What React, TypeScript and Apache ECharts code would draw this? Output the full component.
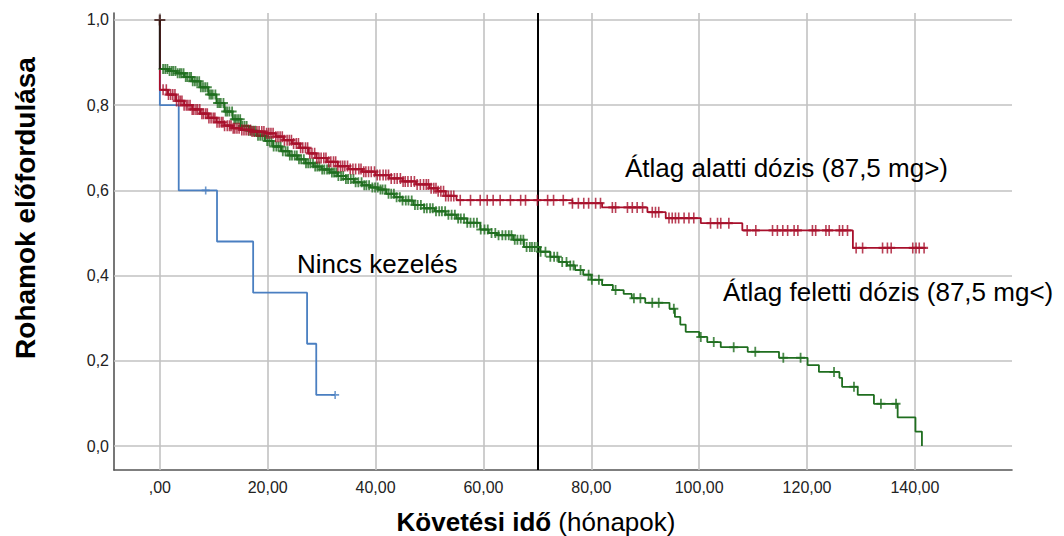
import { useEffect, useRef } from "react";
import * as echarts from "echarts";

// ---- axis ticks ----
const xTicks = [0, 20, 40, 60, 80, 100, 120, 140];
const yTicks = [0, 0.2, 0.4, 0.6, 0.8, 1.0];
const referenceLineX = 70;

// ---- Nincs kezelés (blue) ----
const blueTimes = [0, 3.5, 10.6, 17.3, 27.3, 29];
const blueValues = [0.8, 0.6, 0.48, 0.36, 0.24, 0.12];
const blueEnd = 32.5;
const blueCensor = [8.5, 32.5];

// ---- Átlag alatti dózis (red) ----
const redTimes = [
  0, 1.5, 3, 4.5, 6, 7.5, 9, 10.5, 12, 13.5, 15, 17, 19.5, 21.5, 23, 24.5, 26, 27.5, 29, 31, 33, 35,
  37.5, 40, 42.5, 45, 47.5, 50, 51.5, 53, 55, 76.5, 82, 90.4, 93.8, 100.3, 108, 128.5,
];
const redValues = [
  0.836, 0.825, 0.81, 0.8, 0.79, 0.78, 0.77, 0.76, 0.752, 0.746, 0.742, 0.738, 0.734, 0.726, 0.718,
  0.71, 0.7, 0.687, 0.676, 0.667, 0.657, 0.65, 0.644, 0.636, 0.628, 0.621, 0.614, 0.605, 0.598, 0.587,
  0.577, 0.57, 0.56, 0.549, 0.535, 0.523, 0.506, 0.465,
];
const redEnd = 142;
const redCensor = [
  0.6, 1.2, 1.6, 2.0, 2.4, 2.8, 3.1, 3.5, 3.8, 4.1, 4.5, 4.9, 5.2, 5.6, 6.0, 6.3, 6.7, 7.0, 7.4, 7.8,
  8.1, 8.5, 8.8, 9.1, 9.5, 9.9, 10.2, 10.6, 11.0, 11.4, 11.7, 12.0, 12.5, 12.9, 13.2, 13.6, 13.9, 14.3,
  14.7, 15.2, 15.6, 16.0, 16.4, 16.8, 17.1, 17.5, 18.0, 18.4, 18.9, 19.3, 19.8, 20.2, 20.6, 21.0, 21.5,
  21.9, 22.3, 22.7, 23.1, 23.6, 24.0, 24.4, 24.8, 25.3, 25.7, 26.1, 26.5, 27.0, 27.4, 27.8, 28.2, 28.7,
  29.1, 29.5, 29.9, 30.4, 30.8, 31.3, 31.7, 32.2, 32.6, 33.0, 33.5, 33.9, 34.3, 34.8, 35.3, 35.8, 36.3,
  36.9, 37.3, 37.8, 38.2, 38.7, 39.2, 39.8, 40.3, 40.8, 41.4, 41.9, 42.4, 42.9, 43.5, 44.0, 44.6, 45.1,
  45.5, 46.0, 46.6, 47.2, 47.7, 48.3, 48.9, 49.4, 49.8, 50.3, 50.8, 51.2, 51.6, 52.1, 52.6, 53.0, 53.5,
  54.0, 54.5, 55.7, 57.6, 59.4, 60.7, 61.8, 63.1, 65.0, 66.9, 67.8, 70.0, 71.9, 73.0, 74.8, 76.5, 77.6,
  78.6, 79.5, 80.8, 81.7, 83.9, 84.5, 86.7, 87.6, 88.5, 89.5, 91.3, 91.9, 92.5, 94.4, 95.0, 95.6, 96.2,
  97.2, 98.1, 99.0, 102.1, 103.4, 104.0, 105.5, 108.9, 110.5, 113.6, 114.5, 115.5, 116.4, 117.6, 118.3,
  121.0, 121.6, 123.5, 124.1, 126.0, 126.6, 127.5, 129.1, 130.3, 134.0, 134.9, 135.6, 139.6, 140.2,
  140.8, 141.7,
];

// ---- Átlag feletti dózis (green) ----
const greenTimes = [
  0, 1.5, 3, 4.5, 6, 7.5, 9, 10.5, 12, 13.5, 15, 16.5, 18, 19.5, 21, 22.5, 24, 25.5, 27, 28.5, 30,
  31.5, 33, 34.5, 36, 37.5, 39, 40.5, 42, 43.5, 45, 47, 49, 51, 53, 55, 57, 59.4, 61, 62.5, 65.5, 67.5,
  70.5, 72.4, 74, 75.5, 77, 78.5, 80, 82, 84, 86, 87.5, 90, 94.5, 95.5, 96.5, 97.5, 100, 101.5, 104,
  109, 114.8, 120.1, 122.2, 126, 126.5, 129.4, 132.4, 136.8, 140.1, 141.3,
];
const greenValues = [
  0.885, 0.88, 0.875, 0.866, 0.856, 0.842, 0.825, 0.805, 0.785, 0.767, 0.751, 0.74, 0.728, 0.716,
  0.703, 0.692, 0.682, 0.673, 0.664, 0.656, 0.649, 0.642, 0.634, 0.627, 0.619, 0.612, 0.607, 0.602,
  0.592, 0.584, 0.576, 0.566, 0.558, 0.551, 0.543, 0.534, 0.524, 0.508, 0.5, 0.495, 0.484, 0.467,
  0.456, 0.444, 0.432, 0.424, 0.413, 0.402, 0.39, 0.378, 0.366, 0.357, 0.347, 0.336, 0.322, 0.303,
  0.285, 0.268, 0.256, 0.244, 0.232, 0.221, 0.207, 0.19, 0.174, 0.16, 0.139, 0.12, 0.099, 0.067,
  0.034, 0.0,
];
const greenEnd = 141.3;
const greenCensor = [
  0.6, 1.0, 1.4, 1.8, 2.2, 2.5, 2.9, 3.3, 3.7, 4.0, 4.4, 4.8, 5.1, 5.5, 5.8, 6.1, 6.5, 6.9, 7.3, 7.6,
  8.0, 8.4, 8.8, 9.2, 9.5, 9.8, 10.3, 10.7, 11.0, 11.3, 11.8, 12.2, 12.5, 12.9, 13.4, 13.8, 14.1, 14.5,
  14.9, 15.3, 15.7, 16.1, 16.5, 16.9, 17.3, 17.7, 18.2, 18.6, 19.0, 19.4, 19.9, 20.3, 20.7, 21.1, 21.6,
  22.0, 22.4, 22.8, 23.3, 23.7, 24.1, 24.5, 25.0, 25.4, 25.8, 26.2, 26.7, 27.1, 27.5, 27.9, 28.4, 28.8,
  29.2, 29.6, 30.1, 30.5, 31.0, 31.4, 31.9, 32.3, 32.7, 33.1, 33.6, 34.0, 34.5, 34.9, 35.4, 35.9, 36.3,
  36.8, 37.4, 37.9, 38.3, 38.8, 39.4, 39.9, 40.4, 40.9, 41.3, 41.8, 42.4, 42.9, 43.4, 43.9, 44.5, 45.0,
  45.6, 46.1, 46.7, 47.3, 47.8, 48.4, 49.0, 49.5, 50.1, 50.6, 51.2, 51.8, 52.3, 52.9, 53.5, 54.1, 54.7,
  55.3, 55.8, 56.4, 57.0, 57.6, 58.2, 58.8, 59.5, 60.2, 60.8, 61.5, 62.2, 62.8, 63.5, 64.1, 64.7, 65.2,
  65.8, 66.3, 66.9, 67.4, 68.0, 68.6, 69.0, 69.5, 70.0, 70.6, 71.5, 72.4, 73.1, 73.7, 74.6, 75.4, 76.1,
  76.7, 78.0, 79.5, 80.1, 81.4, 84.5, 87.9, 89.1, 91.3, 92.5, 95.3, 100.3, 102.7, 106.4, 110.4, 115.6,
  118.8, 125.0, 128.7, 133.7, 136.5,
];

const BLUE = "#4a7fc1";
const RED = "#a8102c";
const GREEN = "#1f6e1f";
const GRID = "#c2c2c2";
const AXIS = "#555555";
const FONT = "'Liberation Sans', Arial, sans-serif";
const NARROW = "'Liberation Sans Narrow', 'Arial Narrow', 'Liberation Sans', Arial, sans-serif";
const PLUS = "path://M4,0H6V4H10V6H6V10H4V6H0V4H4Z";

function stepPoints(times: number[], values: number[], end: number) {
  const pts: number[][] = [[0, 1]];
  let prev = 1;
  for (let i = 0; i < times.length; i++) {
    pts.push([times[i], prev]);
    pts.push([times[i], values[i]]);
    prev = values[i];
  }
  if (end > times[times.length - 1]) pts.push([end, prev]);
  return pts;
}

function valueAt(times: number[], values: number[], t: number) {
  let v = 1;
  for (let i = 0; i < times.length; i++) if (times[i] <= t) v = values[i];
  return v;
}

function censorPoints(times: number[], values: number[], cens: number[]) {
  return cens.map((t) => [t, valueAt(times, values, t)]);
}

export default function App() {
  const ref = useRef<HTMLDivElement>(null);
  useEffect(() => {
    if (!ref.current) return;
    const chart = echarts.init(ref.current, null, { renderer: "svg" });
    const curve = (name: string, color: string, times: number[], values: number[], end: number) => ({
      name,
      type: "line",
      data: stepPoints(times, values, end),
      showSymbol: false,
      symbol: "none",
      lineStyle: { color, width: 1.8 },
      z: 10,
      silent: true,
    });
    const marks = (color: string, pts: number[][], size: number[]) => ({
      type: "scatter",
      data: pts,
      symbol: PLUS,
      symbolSize: size,
      itemStyle: { color },
      z: 11,
      silent: true,
    });
    chart.setOption({
      animation: false,
      backgroundColor: "#ffffff",
      grid: { left: 114, right: 52, top: 13, bottom: 66, containLabel: false },
      xAxis: {
        type: "value",
        min: -8.5,
        max: 158,
        axisLine: { show: true, onZero: false, lineStyle: { color: AXIS, width: 1.6 } },
        axisTick: { show: false },
        splitLine: { show: false },
        axisLabel: {
          customValues: xTicks,
          formatter: (v: number) => (v === 0 ? ",00" : v.toFixed(2).replace(".", ",")),
          color: "#222",
          fontSize: 16,
          fontFamily: NARROW,
          margin: 9,
        },
      },
      yAxis: {
        type: "value",
        min: -0.0563,
        max: 1.0164,
        axisLine: { show: true, onZero: false, lineStyle: { color: AXIS, width: 1.6 } },
        axisTick: { show: false },
        splitLine: { show: false },
        axisLabel: {
          customValues: yTicks,
          formatter: (v: number) => v.toFixed(1).replace(".", ","),
          color: "#222",
          fontSize: 16,
          fontFamily: NARROW,
          margin: 5,
        },
      },
      graphic: [
        { type: "rect", z: 5, shape: { x: 592, y: 143, width: 398, height: 55 }, style: { fill: "#fff" } },
        { type: "rect", z: 5, shape: { x: 688, y: 263, width: 376, height: 67 }, style: { fill: "#fff" } },
        { type: "rect", z: 5, shape: { x: 273, y: 237, width: 212, height: 53 }, style: { fill: "#fff" } },
        {
          type: "text", z: 6, x: 625, y: 168,
          style: { text: "Átlag alatti dózis (87,5 mg>)", fill: "#000", fontSize: 26, fontFamily: FONT,
            textAlign: "left", textVerticalAlign: "middle", align: "left", verticalAlign: "middle" },
        },
        {
          type: "text", z: 6, x: 723, y: 292,
          style: { text: "Átlag feletti dózis (87,5 mg<)", fill: "#000", fontSize: 26, fontFamily: FONT,
            textAlign: "left", textVerticalAlign: "middle", align: "left", verticalAlign: "middle" },
        },
        {
          type: "text", z: 6, x: 297, y: 264,
          style: { text: "Nincs kezelés", fill: "#000", fontSize: 26, fontFamily: FONT,
            textAlign: "left", textVerticalAlign: "middle", align: "left", verticalAlign: "middle" },
        },
        {
          type: "text", z: 6, x: 25, y: 208, rotation: Math.PI / 2,
          style: { text: "Rohamok előfordulása", fill: "#000", fontSize: 28, fontWeight: "bold", fontFamily: FONT,
            textAlign: "center", textVerticalAlign: "middle", align: "center", verticalAlign: "middle" },
        },
        {
          type: "text", z: 6, x: 536, y: 522,
          style: {
            text: "{b|Követési idő} {r|(hónapok)}",
            rich: {
              b: { fontSize: 26, fontWeight: "bold", fontFamily: FONT, fill: "#000", color: "#000" },
              r: { fontSize: 26, fontFamily: FONT, fill: "#000", color: "#000" },
            },
            fill: "#000", fontSize: 26, fontFamily: FONT,
            textAlign: "center", textVerticalAlign: "middle", align: "center", verticalAlign: "middle",
          },
        },
      ],
      series: [
        {
          type: "line",
          data: [[0, 1]],
          symbol: "none",
          lineStyle: { opacity: 0 },
          z: 1,
          silent: true,
          markLine: {
            silent: true,
            symbol: "none",
            label: { show: false },
            animation: false,
            data: [
              ...yTicks.map((v) => ({ yAxis: v, lineStyle: { color: GRID, width: 1.6, type: "solid" } })),
              ...xTicks.map((v) => ({ xAxis: v, lineStyle: { color: GRID, width: 1.6, type: "solid" } })),
              { xAxis: referenceLineX, lineStyle: { color: "#000", width: 2, type: "solid" } },
            ],
          },
        },
        curve("Nincs kezelés", BLUE, blueTimes, blueValues, blueEnd),
        curve("Átlag feletti dózis", GREEN, greenTimes, greenValues, greenEnd),
        curve("Átlag alatti dózis", RED, redTimes, redValues, redEnd),
        marks(BLUE, censorPoints(blueTimes, blueValues, blueCensor), [8, 8]),
        marks(GREEN, censorPoints(greenTimes, greenValues, greenCensor), [9, 10]),
        marks(RED, censorPoints(redTimes, redValues, redCensor), [8, 11]),
        {
          type: "line",
          data: [[0, 1], [0, 0.885]],
          symbol: "none",
          lineStyle: { color: "#2a1a14", width: 1.8 },
          z: 12,
          silent: true,
        },
        {
          type: "scatter",
          data: [[0, 1]],
          symbol: PLUS,
          symbolSize: [11, 11],
          itemStyle: { color: "#3a1410" },
          z: 13,
          silent: true,
        },
      ],
    });
    return () => chart.dispose();
  }, []);
  return (
    <div
      ref={ref}
      style={{ position: "fixed", left: 0, top: 0, width: 1064, height: 536, background: "#fff" }}
    />
  );
}
